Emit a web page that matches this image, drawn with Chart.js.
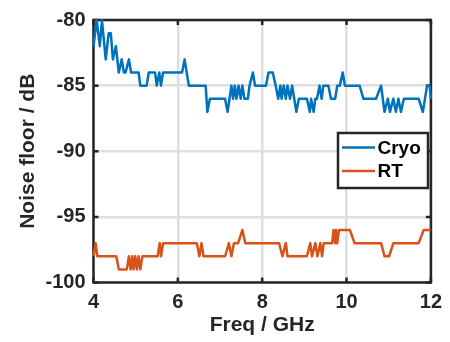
<!DOCTYPE html>
<html><head><meta charset="utf-8">
<script src="https://cdn.jsdelivr.net/npm/chart.js@4"></script>
<style>html,body{margin:0;padding:0;background:#fff}</style>
</head><body>
<canvas id="c" width="450" height="342"></canvas>
<script>
const xTicks=[4,6,8,10,12];
const yTicks=[-100,-95,-90,-85,-80];
const seriesNames=['Cryo','RT'];
const cryoFreq=[4.00,4.075,4.15,4.20,4.29,4.36,4.41,4.46,4.53,4.60,4.67,4.72,4.76,4.84,4.89,5.07,5.11,5.26,5.31,5.46,5.50,5.56,5.60,5.65,6.10,6.16,6.26,6.66,6.70,6.76,7.12,7.18,7.27,7.31,7.35,7.39,7.44,7.49,7.53,7.58,7.66,7.70,7.78,7.83,8.09,8.15,8.25,8.32,8.38,8.43,8.46,8.51,8.56,8.60,8.66,8.71,8.81,8.87,9.06,9.13,9.16,9.22,9.26,9.30,9.36,9.41,9.45,9.57,9.63,9.73,9.78,9.84,9.91,9.96,10.31,10.40,10.70,10.82,10.90,10.98,11.03,11.11,11.17,11.23,11.29,11.36,11.71,11.81,11.91,11.97,12.00];
const cryoNoise=[-82,-80,-82,-80,-83,-81,-81,-83,-82,-84,-83,-84,-84,-83,-84,-84,-85,-85,-84,-84,-85,-84,-85,-84,-84,-83,-85,-85,-87,-86,-86,-87,-85,-86,-85,-86,-85,-86,-85,-86,-86,-85,-84,-85,-85,-84,-84,-85,-86,-85,-86,-85,-86,-85,-86,-85,-87,-86,-86,-87,-86,-87,-86,-86,-85,-86,-85,-85,-86,-86,-85,-85,-84,-85,-85,-86,-86,-85,-87,-86,-87,-86,-87,-86,-87,-86,-86,-87,-85,-85,-86];
const rtFreq=[4.00,4.05,4.09,4.54,4.60,4.79,4.84,4.88,4.92,4.95,4.99,5.03,5.07,5.11,5.16,5.52,5.57,5.60,5.65,6.45,6.51,6.56,6.61,7.12,7.21,7.27,7.33,7.43,7.53,7.60,8.40,8.48,8.56,8.60,9.06,9.14,9.18,9.26,9.31,9.38,9.42,9.46,9.66,9.69,9.73,9.75,9.78,9.82,10.08,10.19,10.82,10.90,11.01,11.11,11.71,11.83,12.00];
const rtNoise=[-98,-97,-98,-98,-99,-99,-98,-99,-98,-99,-98,-99,-98,-99,-98,-98,-97,-98,-97,-97,-98,-97,-98,-98,-97,-98,-97,-97,-96,-97,-97,-98,-97,-98,-98,-97,-98,-97,-98,-97,-98,-97,-97,-96,-97,-96,-97,-96,-96,-97,-97,-98,-98,-97,-97,-96,-96];

const FONT="'Liberation Sans', Arial, Helvetica, sans-serif";
const AX='#262626';
const toPts=(xs,ys)=>xs.map((x,i)=>({x:x,y:ys[i]}));

const frame={
  id:'frame',
  beforeDatasetsDraw(chart){
    const {ctx,chartArea:a,scales:{x,y}}=chart;
    ctx.save();
    ctx.strokeStyle=AX;
    ctx.lineWidth=2.5;
    ctx.strokeRect(a.left,a.top,a.right-a.left,a.bottom-a.top);
    const tl=5;
    ctx.beginPath();
    xTicks.forEach(v=>{const px=x.getPixelForValue(v);
      ctx.moveTo(px,a.bottom);ctx.lineTo(px,a.bottom-tl);
      ctx.moveTo(px,a.top);ctx.lineTo(px,a.top+tl);});
    yTicks.forEach(v=>{const py=y.getPixelForValue(v);
      ctx.moveTo(a.left,py);ctx.lineTo(a.left+tl,py);
      ctx.moveTo(a.right,py);ctx.lineTo(a.right-tl,py);});
    ctx.stroke();
    ctx.restore();
  },
  afterDatasetsDraw(chart){
    const {ctx}=chart;
    const bx=338,by=133,bw=90,bh=55;
    ctx.save();
    ctx.fillStyle='#fff';
    ctx.fillRect(bx,by,bw,bh);
    ctx.strokeStyle=AX;ctx.lineWidth=2.5;
    ctx.strokeRect(bx,by,bw,bh);
    ctx.font="bold 19px "+FONT;
    ctx.textBaseline='middle';ctx.textAlign='left';
    chart.data.datasets.forEach((ds,i)=>{
      const ly=147.5+i*23.5;
      ctx.strokeStyle=ds.borderColor;ctx.lineWidth=2.5;
      ctx.beginPath();ctx.moveTo(342,ly);ctx.lineTo(375,ly);ctx.stroke();
      ctx.fillStyle='#000';
      ctx.fillText(ds.label,377.5,ly+1);
    });
    ctx.restore();
  }
};

new Chart(document.getElementById('c'),{
  type:'scatter',
  data:{datasets:[
    {label:seriesNames[0],data:toPts(cryoFreq,cryoNoise),showLine:true,borderColor:'#0072BD',backgroundColor:'#0072BD',borderWidth:2.5,pointRadius:0,borderJoinStyle:'round',clip:false},
    {label:seriesNames[1],data:toPts(rtFreq,rtNoise),showLine:true,borderColor:'#D95319',backgroundColor:'#D95319',borderWidth:2.5,pointRadius:0,borderJoinStyle:'round',clip:false}
  ]},
  options:{
    responsive:false,animation:false,
    layout:{padding:{left:0,top:16.5,right:14.5,bottom:0}},
    plugins:{legend:{display:false},tooltip:{enabled:false}},
    scales:{
      x:{type:'linear',min:4,max:12,
        afterBuildTicks:s=>{s.ticks=xTicks.map(v=>({value:v}));},
        afterFit:s=>{s.height=59.5;},
        grid:{color:'#dedede',lineWidth:2.5,drawTicks:false},
        border:{display:false},
        ticks:{color:'#262626',padding:8,maxRotation:0,font:{family:FONT,size:20,weight:'bold'}},
        title:{display:true,text:'Freq / GHz',color:'#262626',padding:{top:0,bottom:4},font:{family:FONT,size:21,weight:'bold'}}
      },
      y:{type:'linear',min:-100,max:-80,
        afterBuildTicks:s=>{s.ticks=yTicks.map(v=>({value:v}));},
        afterFit:s=>{s.width=93.5;},
        grid:{color:'#dedede',lineWidth:2.5,drawTicks:false},
        border:{display:false},
        ticks:{color:'#262626',padding:8,font:{family:FONT,size:20,weight:'bold'}},
        title:{display:true,text:'Noise floor / dB',color:'#262626',padding:{top:16,bottom:0},font:{family:FONT,size:21,weight:'bold'}}
      }
    }
  },
  plugins:[frame]
});
</script>
</body></html>
